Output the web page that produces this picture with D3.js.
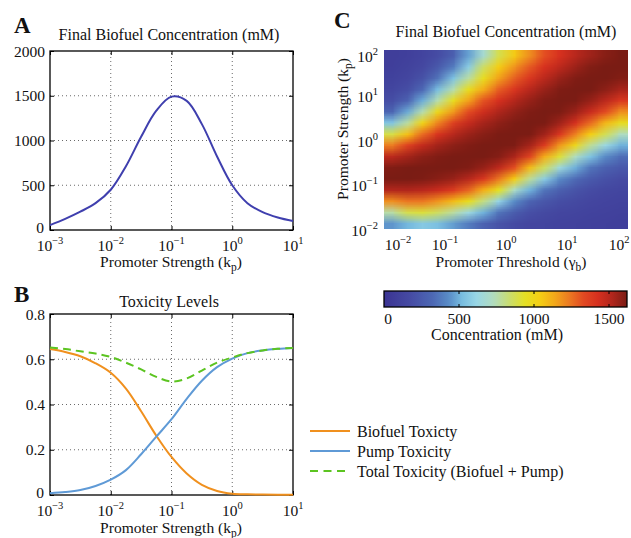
<!DOCTYPE html>
<html>
<head>
<meta charset="utf-8">
<script src="https://cdn.jsdelivr.net/npm/d3@7"></script>
<style>
  body { margin: 0; background: #fff; }
  svg, svg text, svg tspan { font-family: "Liberation Serif", "DejaVu Serif", "Times New Roman", serif !important; }
  svg text { fill: #111; }
</style>
</head>
<body>
<svg id="fig" width="631" height="538" font-family="Liberation Serif, DejaVu Serif, serif"></svg>
<script>
"use strict";

// ---- data ----
var kpExp = [-3, -2.75, -2.5, -2.25, -2, -1.75, -1.5, -1.25, -1, -0.75, -0.5, -0.25, 0, 0.25, 0.5, 0.75, 1];
var finalConc = [55, 125, 205, 300, 450, 712, 1042, 1333, 1490, 1443, 1183, 821, 500, 300, 200, 140, 100];
var biofuelTox = [0.645, 0.632, 0.613, 0.582, 0.540, 0.470, 0.370, 0.262, 0.168, 0.095, 0.045, 0.018, 0.006, 0.003, 0.002, 0.001, 0.001];
var pumpTox = [0.008, 0.013, 0.022, 0.040, 0.068, 0.110, 0.180, 0.258, 0.335, 0.425, 0.505, 0.565, 0.603, 0.627, 0.639, 0.646, 0.650];
var totalTox = [0.652, 0.645, 0.635, 0.625, 0.610, 0.585, 0.555, 0.522, 0.502, 0.515, 0.550, 0.585, 0.608, 0.627, 0.639, 0.646, 0.650];

var concTicks = [0, 500, 1000, 1500, 2000];
var toxTicks = [0, 0.2, 0.4, 0.6, 0.8];
var kpDecades = [1e-3, 1e-2, 1e-1, 1e0, 1e1];
var gammaDecades = [1e-2, 1e-1, 1e0, 1e1, 1e2];
var kpDecadesC = [1e-2, 1e-1, 1e0, 1e1, 1e2];

// heatmap cell centres (log10) and concentration (mM); rows top (high kp) to bottom
var gammaExp = [-1.875, -1.625, -1.375, -1.125, -0.875, -0.625, -0.375, -0.125, 0.125, 0.375, 0.625, 0.875, 1.125, 1.375, 1.625, 1.875];
var kpGridExp = [1.875, 1.625, 1.375, 1.125, 0.875, 0.625, 0.375, 0.125, -0.125, -0.375, -0.625, -0.875, -1.125, -1.375, -1.625, -1.875];
var concGrid = [
  [75, 92, 125, 178, 275, 470, 680, 880, 1050, 1190, 1320, 1420, 1500, 1553, 1595, 1620],
  [88, 112, 155, 246, 385, 575, 850, 1040, 1180, 1300, 1420, 1490, 1557, 1605, 1626, 1629],
  [105, 138, 210, 355, 540, 770, 965, 1150, 1285, 1400, 1495, 1565, 1608, 1628, 1626, 1603],
  [135, 190, 320, 520, 750, 965, 1130, 1290, 1405, 1500, 1565, 1610, 1629, 1620, 1585, 1535],
  [190, 295, 490, 750, 965, 1150, 1310, 1425, 1510, 1568, 1610, 1629, 1617, 1568, 1495, 1395],
  [310, 485, 750, 990, 1170, 1330, 1445, 1525, 1575, 1610, 1628, 1615, 1560, 1460, 1330, 1190],
  [550, 770, 1010, 1210, 1365, 1470, 1540, 1582, 1612, 1628, 1617, 1553, 1430, 1265, 1100, 965],
  [890, 1075, 1265, 1410, 1505, 1560, 1595, 1617, 1628, 1617, 1550, 1405, 1220, 1035, 870, 725],
  [1230, 1360, 1475, 1545, 1585, 1608, 1624, 1630, 1613, 1545, 1385, 1175, 990, 785, 630, 500],
  [1495, 1545, 1585, 1608, 1622, 1629, 1627, 1600, 1530, 1360, 1130, 915, 725, 540, 425, 340],
  [1608, 1618, 1627, 1630, 1626, 1608, 1568, 1490, 1320, 1090, 855, 650, 495, 360, 290, 240],
  [1624, 1620, 1612, 1593, 1565, 1505, 1400, 1240, 1035, 785, 575, 425, 330, 250, 205, 175],
  [1515, 1520, 1500, 1460, 1385, 1275, 1120, 940, 710, 500, 360, 280, 220, 178, 152, 137],
  [1190, 1240, 1240, 1180, 1090, 965, 810, 605, 430, 305, 235, 190, 165, 138, 127, 118],
  [760, 880, 905, 855, 770, 640, 500, 360, 265, 195, 165, 142, 130, 118, 110, 100],
  [450, 510, 565, 530, 465, 385, 295, 220, 172, 140, 128, 118, 110, 100, 93, 88]
];
var cbTicks = [0, 500, 1000, 1500];
var cbMax = 1620;
var legendNames = ['Biofuel Toxicty', 'Pump Toxicity', 'Total Toxicity (Biofuel + Pump)'];

// jet-like colour map as printed
var cmapStops = [0, 0.10, 0.20, 0.27, 0.32, 0.38, 0.45, 0.52, 0.58, 0.64, 0.70, 0.76, 0.82, 0.88, 0.94, 1];
var cmapColors = ['#3b3493', '#4549a2', '#4d68b4', '#5a8ec8', '#78bde0', '#98d6e6', '#b0dcc0', '#cbdd6a',
  '#e4e024', '#f4cf14', '#f3aa1a', '#ec7c22', '#e24a22', '#d6301f', '#b0261c', '#7a1c14'];

var svg = d3.select('#fig');
var FS = 15.5;

function expText(e) {
  return e < 0 ? '\u2212' + (-e) : String(e);
}

// "10^n" label as one text chunk, so the anchor covers the exponent too
function powLabel(g, px, py, e, anchor) {
  var t = g.append('text').attr('x', px).attr('y', py)
    .attr('text-anchor', anchor).attr('font-size', FS);
  t.append('tspan').text('10');
  t.append('tspan').attr('dy', -7).attr('font-size', 10.5).text(expText(e));
  return t;
}

// MATLAB style box: dotted grid, inward ticks on all sides
function frame(g, x, y, xVals, yVals) {
  var x0 = x.range()[0], x1 = x.range()[1];
  var y0 = y.range()[0], y1 = y.range()[1];
  var grid = g.append('g').attr('stroke', '#444').attr('stroke-width', 0.8)
    .attr('stroke-dasharray', '1,3');
  grid.selectAll('.gx').data(xVals.slice(1, -1)).enter().append('line')
    .attr('x1', x).attr('x2', x).attr('y1', y0).attr('y2', y1);
  grid.selectAll('.gy').data(yVals.slice(1, -1)).enter().append('line')
    .attr('y1', y).attr('y2', y).attr('x1', x0).attr('x2', x1);

  var axes = [
    [d3.axisBottom(x), 'translate(0,' + y0 + ')'],
    [d3.axisTop(x), 'translate(0,' + y1 + ')'],
    [d3.axisLeft(y), 'translate(' + x0 + ',0)'],
    [d3.axisRight(y), 'translate(' + x1 + ',0)']
  ];
  axes.forEach(function (a, k) {
    var vals = k < 2 ? xVals : yVals;
    var ag = g.append('g').attr('transform', a[1])
      .call(a[0].tickValues(vals).tickSize(-4).tickSizeOuter(0).tickFormat(''));
    ag.select('.domain').remove();
    ag.selectAll('line').attr('stroke', '#000').attr('stroke-width', 1);
  });
  g.append('rect').attr('x', x0).attr('y', y1)
    .attr('width', x1 - x0).attr('height', y0 - y1)
    .attr('fill', 'none').attr('stroke', '#000').attr('stroke-width', 1.3);
}

function xPowLabels(g, x, vals, py) {
  vals.forEach(function (v) {
    powLabel(g, x(v), py, Math.round(Math.log10(v)), 'middle');
  });
}

function yNumLabels(g, y, vals, px, fmt) {
  g.selectAll('.yl').data(vals).enter().append('text')
    .attr('x', function (d) { return d === 0 ? px - 1 : px; })
    .attr('y', function (d) { return y(d) + (d === 0 ? 3 : 5.5); })
    .attr('text-anchor', 'end').attr('font-size', FS)
    .text(fmt);
}

function kpLabel(g, px, py, anchor, rotate, word) {
  var t = g.append('text').attr('font-size', FS).attr('text-anchor', anchor);
  if (rotate) {
    t.attr('transform', 'translate(' + px + ',' + py + ') rotate(-90)');
  } else {
    t.attr('x', px).attr('y', py);
  }
  t.append('tspan').text(word + ' (');
  t.append('tspan').text(word === 'Promoter Threshold' ? '\u03b3' : 'k');
  t.append('tspan').attr('dy', 4).attr('font-size', 11.5).text(word === 'Promoter Threshold' ? 'b' : 'p');
  t.append('tspan').attr('dy', -4).text(')');
}

// ---- Panel A ----
var xA = d3.scaleLog().domain([1e-3, 1e1]).range([50, 293]);
var yA = d3.scaleLinear().domain([0, 2000]).range([230, 51]);
var gA = svg.append('g');
frame(gA, xA, yA, kpDecades, concTicks);
gA.append('path')
  .datum(kpExp.map(function (e, i) { return [e, finalConc[i]]; }))
  .attr('fill', 'none').attr('stroke', '#3f3fae').attr('stroke-width', 2)
  .attr('d', d3.line()
    .x(function (d) { return xA(Math.pow(10, d[0])); })
    .y(function (d) { return yA(d[1]); })
    .curve(d3.curveCatmullRom.alpha(0.5)));
yNumLabels(gA, yA, concTicks, 45, function (d) { return d; });
xPowLabels(gA, xA, kpDecades, 251);
gA.append('text').attr('x', 169).attr('y', 40).attr('text-anchor', 'middle')
  .attr('font-size', 16).text('Final Biofuel Concentration (mM)');
kpLabel(gA, 171, 267, 'middle', false, 'Promoter Strength');
gA.append('text').attr('x', 14).attr('y', 33).attr('font-size', 23)
  .attr('font-weight', 'bold').text('A');

// ---- Panel B ----
var xB = d3.scaleLog().domain([1e-3, 1e1]).range([50, 293]);
var yB = d3.scaleLinear().domain([0, 0.8]).range([495, 314]);
var gB = svg.append('g');
frame(gB, xB, yB, kpDecades, toxTicks);
var lineB = d3.line()
  .x(function (d) { return xB(Math.pow(10, d[0])); })
  .y(function (d) { return yB(d[1]); })
  .curve(d3.curveCatmullRom.alpha(0.5));
var seriesB = [
  { vals: biofuelTox, color: '#f0901e', dash: null },
  { vals: pumpTox, color: '#5f9ad6', dash: null },
  { vals: totalTox, color: '#5cc421', dash: '8,5' }
];
seriesB.forEach(function (s) {
  gB.append('path')
    .datum(kpExp.map(function (e, i) { return [e, s.vals[i]]; }))
    .attr('fill', 'none').attr('stroke', s.color).attr('stroke-width', 2)
    .attr('stroke-dasharray', s.dash)
    .attr('d', lineB);
});
yNumLabels(gB, yB, toxTicks, 45, function (d) { return d === 0 ? '0' : d.toFixed(1); });
xPowLabels(gB, xB, kpDecades, 516);
gB.append('text').attr('x', 169).attr('y', 307).attr('text-anchor', 'middle')
  .attr('font-size', 16).text('Toxicity Levels');
kpLabel(gB, 171, 533, 'middle', false, 'Promoter Strength');
gB.append('text').attr('x', 14).attr('y', 302).attr('font-size', 23)
  .attr('font-weight', 'bold').text('B');

// legend
var legend = svg.append('g');
seriesB.forEach(function (s, i) {
  var ly = 431 + i * 20;
  legend.append('line').attr('x1', 310).attr('x2', 350).attr('y1', ly).attr('y2', ly)
    .attr('stroke', s.color).attr('stroke-width', 2)
    .attr('stroke-dasharray', s.dash ? '8,5.5' : null);
  legend.append('text').attr('x', 357).attr('y', ly + 5.5).attr('font-size', 16)
    .text(legendNames[i]);
});

// ---- Panel C ----
var color = d3.scaleLinear()
  .domain(cmapStops.map(function (s) { return s * cbMax; }))
  .range(cmapColors).clamp(true);
var xC = d3.scaleLog().domain([1e-2, 1e2]).range([384, 628]);
var yC = d3.scaleLog().domain([1e-2, 1e2]).range([229, 50]);
var gC = svg.append('g');

var colIdx = d3.scaleLinear().domain([gammaExp[0], gammaExp[gammaExp.length - 1]]).range([0, gammaExp.length - 1]);
var rowIdx = d3.scaleLinear().domain([kpGridExp[0], kpGridExp[kpGridExp.length - 1]]).range([0, kpGridExp.length - 1]);
var cv = document.createElement('canvas');
cv.width = gammaExp.length;
cv.height = kpGridExp.length;
var ctx = cv.getContext('2d');
concGrid.forEach(function (row, i) {
  row.forEach(function (v, j) {
    ctx.fillStyle = color(v);
    ctx.fillRect(Math.round(colIdx(gammaExp[j])), Math.round(rowIdx(kpGridExp[i])), 1, 1);
  });
});
gC.append('image')
  .attr('href', cv.toDataURL())
  .attr('x', xC(1e-2)).attr('y', yC(1e2))
  .attr('width', xC(1e2) - xC(1e-2)).attr('height', yC(1e-2) - yC(1e2))
  .attr('preserveAspectRatio', 'none');

gammaDecades.forEach(function (v, k) {
  var t = powLabel(gC, xC(v), 250, Math.round(Math.log10(v)), 'middle');
  if (k === 0) t.attr('dx', 14);
  if (k === gammaDecades.length - 1) t.attr('dx', -9);
});
kpDecadesC.forEach(function (v, k) {
  var py = yC(v) + 7;
  if (k === kpDecadesC.length - 1) py += 5;
  powLabel(gC, 378, py, Math.round(Math.log10(v)), 'end');
});
gC.append('text').attr('x', 506).attr('y', 37).attr('text-anchor', 'middle')
  .attr('font-size', 16).text('Final Biofuel Concentration (mM)');
kpLabel(gC, 511, 267, 'middle', false, 'Promoter Threshold');
kpLabel(gC, 348, 129, 'middle', true, 'Promoter Strength');
gC.append('text').attr('x', 334).attr('y', 28).attr('font-size', 23)
  .attr('font-weight', 'bold').text('C');

// colour bar
var cb = d3.scaleLinear().domain([0, cbMax]).range([384, 627]);
var defs = svg.append('defs');
var grad = defs.append('linearGradient').attr('id', 'cbgrad')
  .attr('x1', '0%').attr('x2', '100%').attr('y1', '0%').attr('y2', '0%');
grad.selectAll('stop').data(d3.range(0, 1.0001, 0.02)).enter().append('stop')
  .attr('offset', function (d) { return (d * 100) + '%'; })
  .attr('stop-color', function (d) { return color(d * cbMax); });
var gCb = svg.append('g');
gCb.append('rect').attr('x', cb(0)).attr('y', 291)
  .attr('width', cb(cbMax) - cb(0)).attr('height', 16)
  .attr('fill', 'url(#cbgrad)').attr('stroke', '#000').attr('stroke-width', 1.3);
gCb.selectAll('.tt').data(cbTicks.slice(1)).enter().append('line')
  .attr('x1', cb).attr('x2', cb).attr('y1', 291).attr('y2', 294)
  .attr('stroke', '#000');
gCb.selectAll('.tb').data(cbTicks.slice(1)).enter().append('line')
  .attr('x1', cb).attr('x2', cb).attr('y1', 304).attr('y2', 307)
  .attr('stroke', '#000');
gCb.selectAll('.tl').data(cbTicks).enter().append('text')
  .attr('x', function (d) { return cb(d) + (d === 0 ? 4 : 0); }).attr('y', 324)
  .attr('text-anchor', 'middle').attr('font-size', FS)
  .text(function (d) { return d; });
gCb.append('text').attr('x', 497).attr('y', 340).attr('text-anchor', 'middle')
  .attr('font-size', 16).text('Concentration (mM)');
</script>
</body>
</html>
